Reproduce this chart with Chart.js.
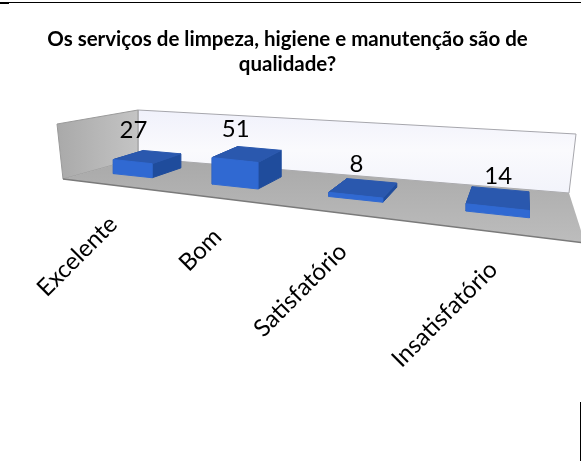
<!DOCTYPE html>
<html lang="pt">
<head>
<meta charset="utf-8">
<title>Serviços de limpeza</title>
<script src="https://cdn.jsdelivr.net/npm/chart.js@4/dist/chart.umd.min.js"></script>
<style>
  body { margin: 0; background: #fff; overflow: hidden; }
  #wrap { position: relative; width: 581px; height: 461px; }
  #topRule { position: absolute; left: 0; top: 2px; width: 581px; height: 1px; background: #000; }
  #topStub { position: absolute; left: 0; top: 3px; width: 9px; height: 1px; background: #000; }
  #sideRule { position: absolute; left: 580px; top: 402px; width: 1px; height: 59px; background: #000; }
</style>
</head>
<body>
<div id="wrap">
  <canvas id="chart" width="581" height="461"></canvas>
  <div id="topRule"></div><div id="topStub"></div><div id="sideRule"></div>
</div>
<script>
// Chart data
const categories = ['Excelente', 'Bom', 'Satisfatório', 'Insatisfatório'];
const values = [27, 51, 8, 14];
const titleLines = ['Os serviços de limpeza, higiene e manutenção são de', 'qualidade?'];

// Floor corners on screen, used to project the flat chart into the 3D look
const FLOOR = { fl: [63, 179], fr: [585, 243], br: [569, 193], bl: [138, 158] };
const WALL_HEIGHT = 52;    // pixels for the full value axis
const DEPTH_FRONT = 0.33;
const DEPTH_BACK = 0.75;
const LABEL_DEPTH = 0.05;
const LABEL_DROP = 28;

// Square to quad homography
function makeProjection(q) {
    const [x0, y0] = q.fl, [x1, y1] = q.fr, [x2, y2] = q.br, [x3, y3] = q.bl;
    const sx = x0 - x1 + x2 - x3, sy = y0 - y1 + y2 - y3;
    const dx1 = x1 - x2, dx2 = x3 - x2, dy1 = y1 - y2, dy2 = y3 - y2;
    const det = dx1 * dy2 - dx2 * dy1;
    const g = (sx * dy2 - dx2 * sy) / det;
    const h = (dx1 * sy - sx * dy1) / det;
    const a = x1 - x0 + g * x1, b = x3 - x0 + h * x3;
    const d = y1 - y0 + g * y1, e = y3 - y0 + h * y3;
    return (u, v) => {
        const w = g * u + h * v + 1;
        return [(a * u + b * v + x0) / w, (d * u + e * v + y0) / w];
    };
}
const project = makeProjection(FLOOR);

// Chart x pixel to position across the floor
function floorU(chart, px) {
    const area = chart.chartArea;
    const slot = (px - area.left) / (area.right - area.left) * categories.length - 0.5;
    return 0.138 + 0.2935 * slot - 0.01367 * slot * slot;
}

// Category axis whose tick labels follow the front edge of the floor
class FloorCategoryScale extends Chart.CategoryScale {
    _computeLabelArea() {
        return undefined;
    }
    _computeLabelItems(chartArea) {
        const items = super._computeLabelItems(chartArea);
        items.forEach(item => {
            const t = item.options.translation;
            const p = project(floorU(this.chart, t[0]), LABEL_DEPTH);
            item.options.translation = [p[0], p[1] + LABEL_DROP];
        });
        return items;
    }
}
FloorCategoryScale.id = 'floorCategory';
FloorCategoryScale.defaults = Chart.CategoryScale.defaults;
Chart.register(FloorCategoryScale);

function poly(ctx, pts, fill, stroke) {
    ctx.beginPath();
    pts.forEach((p, i) => i ? ctx.lineTo(p[0], p[1]) : ctx.moveTo(p[0], p[1]));
    ctx.closePath();
    ctx.fillStyle = fill;
    ctx.fill();
    if (stroke) {
        ctx.strokeStyle = stroke;
        ctx.lineWidth = 1;
        ctx.stroke();
    }
}

// Walls and floor go behind the boxes
function drawRoom(ctx) {
    const back = ctx.createLinearGradient(0, 110, 0, 190);
    back.addColorStop(0, '#f0f1fb');
    back.addColorStop(0.5, '#fafafd');
    back.addColorStop(1, '#f3f4fb');
    poly(ctx, [[138, 110], [576, 134], [569, 193], [138, 158]], back, '#a6a6ac');

    const left = ctx.createLinearGradient(57, 0, 138, 0);
    left.addColorStop(0, '#a9a9a9');
    left.addColorStop(1, '#c4c4c4');
    poly(ctx, [[57, 124], [138, 110], [138, 158], [63, 179]], left, '#9a9a9a');

    const floor = ctx.createLinearGradient(0, 160, 0, 240);
    floor.addColorStop(0, '#a9a9a9');
    floor.addColorStop(1, '#bcbcbc');
    poly(ctx, [FLOOR.fl, FLOOR.fr, FLOOR.br, FLOOR.bl], floor);

    ctx.strokeStyle = '#7a7a7a';
    ctx.lineWidth = 1.5;
    ctx.beginPath();
    ctx.moveTo(FLOOR.fl[0], FLOOR.fl[1]);
    ctx.lineTo(FLOOR.fr[0], FLOOR.fr[1]);
    ctx.stroke();
}

function drawBox(chart, ctx, el) {
    const area = chart.chartArea;
    const h = (el.base - el.y) / (area.bottom - area.top) * WALL_HEIGHT;
    const uL = floorU(chart, el.x - el.width / 2);
    const uR = floorU(chart, el.x + el.width / 2);
    const lift = p => [p[0], p[1] - h];

    const fl = project(uL, DEPTH_FRONT), fr = project(uR, DEPTH_FRONT);
    const bl = project(uL, DEPTH_BACK), br = project(uR, DEPTH_BACK);

    ctx.lineJoin = 'round';
    poly(ctx, [fl, bl, lift(bl), lift(fl)], '#1f4c9c', '#1f4c9c');
    poly(ctx, [fr, br, lift(br), lift(fr)], '#1f4c9c', '#1f4c9c');
    poly(ctx, [lift(fl), lift(fr), lift(br), lift(bl)], '#2a58ae', '#2a58ae');
    poly(ctx, [fl, fr, lift(fr), lift(fl)], el.options.backgroundColor, el.options.backgroundColor);
}

const roomPlugin = {
    id: 'room',
    beforeDatasetDraw(chart, args) {
        const ctx = chart.ctx;
        ctx.save();
        drawRoom(ctx);
        args.meta.data.forEach(el => drawBox(chart, ctx, el));
        ctx.restore();
        return false; // boxes replace the flat bars
    },
    afterDraw(chart) {
        const ctx = chart.ctx;
        const area = chart.chartArea;
        const meta = chart.getDatasetMeta(0);
        ctx.save();
        ctx.font = '24px Lato';
        ctx.fillStyle = '#000';
        ctx.textAlign = 'center';
        ctx.textBaseline = 'middle';
        meta.data.forEach((el, i) => {
            const h = (el.base - el.y) / (area.bottom - area.top) * WALL_HEIGHT;
            const p = project(floorU(chart, el.x), DEPTH_FRONT);
            ctx.fillText(values[i], p[0] + 1, p[1] - h - 31);
        });
        ctx.restore();
    }
};

new Chart(document.getElementById('chart'), {
    type: 'bar',
    data: {
        labels: categories,
        datasets: [{
            label: 'Respostas',
            data: values,
            backgroundColor: '#3069d2',
            categoryPercentage: 0.88,
            barPercentage: 0.47
        }]
    },
    options: {
        responsive: false,
        animation: false,
        layout: { padding: { top: 27, right: 6 } },
        plugins: {
            legend: { display: false },
            tooltip: { enabled: false },
            title: {
                display: true,
                text: titleLines,
                color: '#000',
                font: { family: 'Lato', size: 20.5, weight: 'bold', lineHeight: 1.2 },
                padding: { top: 0, bottom: 10 }
            }
        },
        scales: {
            x: {
                type: 'floorCategory',
                grid: { display: false },
                border: { display: false },
                ticks: {
                    autoSkip: false,
                    minRotation: 45,
                    maxRotation: 45,
                    color: '#000',
                    font: { family: 'Lato', size: 24 }
                }
            },
            y: {
                display: false,
                min: 0,
                max: 100
            }
        }
    },
    plugins: [roomPlugin]
});
</script>
</body>
</html>
